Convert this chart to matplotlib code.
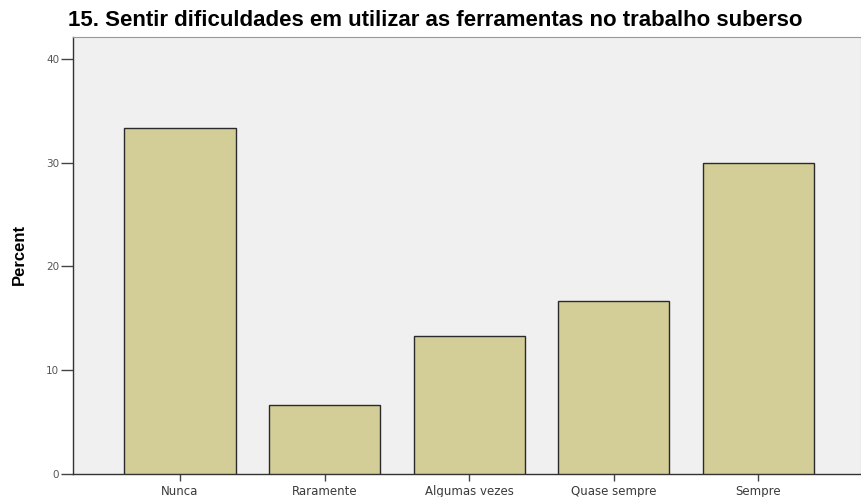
import matplotlib
matplotlib.use("Agg")
import matplotlib.pyplot as plt

categories = ["Nunca", "Raramente", "Algumas vezes", "Quase sempre", "Sempre"]
percent = [33.33, 6.67, 13.33, 16.67, 30.0]
yticks = [0, 10, 20, 30, 40]
title = "15. Sentir dificuldades em utilizar as ferramentas no trabalho suberso"

plt.rcParams['font.family'] = ['Liberation Sans', 'DejaVu Sans']

fig = plt.figure(figsize=(8.61, 4.97), dpi=100)
fig.patch.set_facecolor('white')
ax = fig.add_axes([73/861, 1-474/497, 1-73/861, (474-37)/497])
ax.set_facecolor('#F0F0F0')

x = list(range(len(categories)))
ax.bar(x, percent, width=0.77, color='#D3CE97', edgecolor='#2a2a2a', linewidth=1.0, zorder=3)

ax.set_xlim(-0.74, 4.71)
ax.set_ylim(0, 42.1)
ax.set_yticks(yticks)
ax.set_yticklabels([str(t) for t in yticks], fontsize=7.5, color='#555555',
                   family=['DejaVu Sans'])
ax.set_xticks(x)
ax.set_xticklabels(categories, fontsize=8.5, color='#3a3a3a', family=['DejaVu Sans'])
ax.tick_params(axis='y', direction='out', length=9, width=1, color='#444444', pad=1)
ax.tick_params(axis='x', direction='out', length=5, width=1, color='#444444', pad=3)
for s in ['top', 'right']:
    ax.spines[s].set_visible(True)
    ax.spines[s].set_color('#999999')
for s in ['left', 'bottom']:
    ax.spines[s].set_color('#333333')
    ax.spines[s].set_linewidth(1.0)

fig.text(19/861, 1-254/497, "Percent", rotation=90, ha='center', va='center',
         fontsize=12, fontweight='bold')
fig.text(435/861, 1-21/497, title, ha='center', va='center', fontsize=16, fontweight='bold')

fig.savefig("out.png", dpi=100)
